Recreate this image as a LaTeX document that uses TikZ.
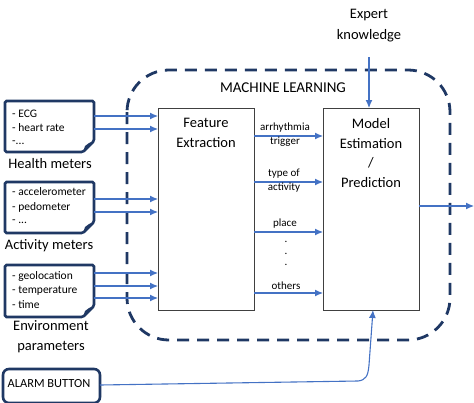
\documentclass[tikz,border=0pt]{standalone}
\usepackage{fontspec}
\setmainfont{Carlito}
\usetikzlibrary{arrows.meta}
\definecolor{navy}{HTML}{1F3864}
\definecolor{arrblue}{HTML}{4472C4}
\definecolor{boxgray}{HTML}{404040}
\tikzset{
  doc/.style={draw=navy, line width=2.6pt, rounded corners=1.5pt, fill=white},
  flow/.style={draw=arrblue, line width=1.1pt, -{Latex[length=8pt,width=7pt]}},
  mainbox/.style={draw=boxgray, line width=0.9pt},
  lbl/.style={font=\fontsize{11}{14}\selectfont, align=center, inner sep=0pt},
  doctext/.style={font=\fontsize{11.5}{14.5}\selectfont, align=left, anchor=west, inner sep=0pt},
  caption/.style={font=\fontsize{14.5}{20}\selectfont, align=center, inner sep=0pt},
  big/.style={font=\fontsize{14.5}{20}\selectfont, align=center, inner sep=0pt},
}
\begin{document}
\begin{tikzpicture}[x=1pt,y=-1pt]
\useasboundingbox (0,0) rectangle (474,402);
% machine learning dashed region
\draw[navy, line width=2.8pt, dash pattern=on 12pt off 8pt, rounded corners=42pt]
  (127,70) rectangle (450,340);
\node[font=\fontsize{15}{18}\selectfont, inner sep=0pt] (ml) at (283,88) {MACHINE LEARNING};
% main boxes
\draw[mainbox] (158,108) rectangle (254,310);
\node[big] (fe) at (206,133) {Feature\\Extraction};
\draw[mainbox] (323,108) rectangle (419,310);
\node[big, font=\fontsize{14.5}{19.7}\selectfont] (me) at (371,153) {Model\\Estimation\\/\\Prediction};
% expert knowledge
\node[big, font=\fontsize{14.5}{21}\selectfont] (ek) at (369,26) {Expert\\knowledge};
\coordinate (ekA) at (369,57);
\coordinate (meT) at (369,108);
\draw[flow] (ekA) -- (meT);
% output
\coordinate (meR) at (419,206);
\coordinate (outR) at (474,206);
\draw[flow] (meR) -- (outR);
% documents
\newcommand{\docshape}[2]{%
  \draw[doc] (5,#1) -- (94,#1) -- (94,#2-11) -- (83,#2) -- (5,#2) -- cycle;
  \fill[navy] (94,#2-11) -- (83,#2) -- (85,#2-6) -- (89,#2-9) -- cycle;
}
\docshape{101}{152}
\node[doctext] (h1) at (12,114) {- ECG};
\node[doctext] (h2) at (12,128) {- heart rate};
\node[doctext] (h3) at (12,143) {-...};
\node[caption] (hc) at (50,164) {Health meters};
\docshape{182}{233}
\node[doctext] (a1) at (12,192) {- accelerometer};
\node[doctext] (a2) at (12,207) {- pedometer};
\node[doctext] (a3) at (12,222) {- ...};
\node[caption] (ac) at (49,246) {Activity meters};
\docshape{265}{317}
\node[doctext] (e1) at (12,276) {- geolocation};
\node[doctext] (e2) at (12,291) {- temperature};
\node[doctext] (e3) at (12,305) {- time};
\node[caption] (ec) at (51,337) {Environment\\parameters};
% alarm button
\draw[doc, rounded corners=6pt] (3,369) rectangle (100,403);
\node[font=\fontsize{12.4}{14}\selectfont, inner sep=0pt] (ab) at (49,384) {ALARM BUTTON};
% input arrows
\foreach \y in {116,129,199,212,273,286,298}{
  \coordinate (s\y) at (94,\y);
  \coordinate (t\y) at (158,\y);
  \draw[flow] (s\y) -- (t\y);
}
% feature to model
\foreach \y/\n in {136/a,182/b,232/c,293/d}{
  \coordinate (fs\n) at (254,\y);
  \coordinate (ft\n) at (323,\y);
  \draw[flow] (fs\n) -- (ft\n);
}
\node[lbl] (l1) at (285,135) {arrhythmia\\trigger};
\node[lbl] (l2) at (284,180.5) {type of\\activity};
\node[lbl] (l3) at (285,224) {place};
\node[lbl] (l4) at (286,286) {others};
\node[lbl] (d1) at (286,242) {.};
\node[lbl] (d2) at (286,254) {.};
\node[lbl] (d3) at (286,265) {.};
% alarm arrow
\coordinate (abR) at (100,385);
\coordinate (meB) at (373,310);
\draw[flow] (abR) -- (358,381) .. controls (366,380) and (368,376) .. (369,365) -- (meB);
\end{tikzpicture}
\end{document}
